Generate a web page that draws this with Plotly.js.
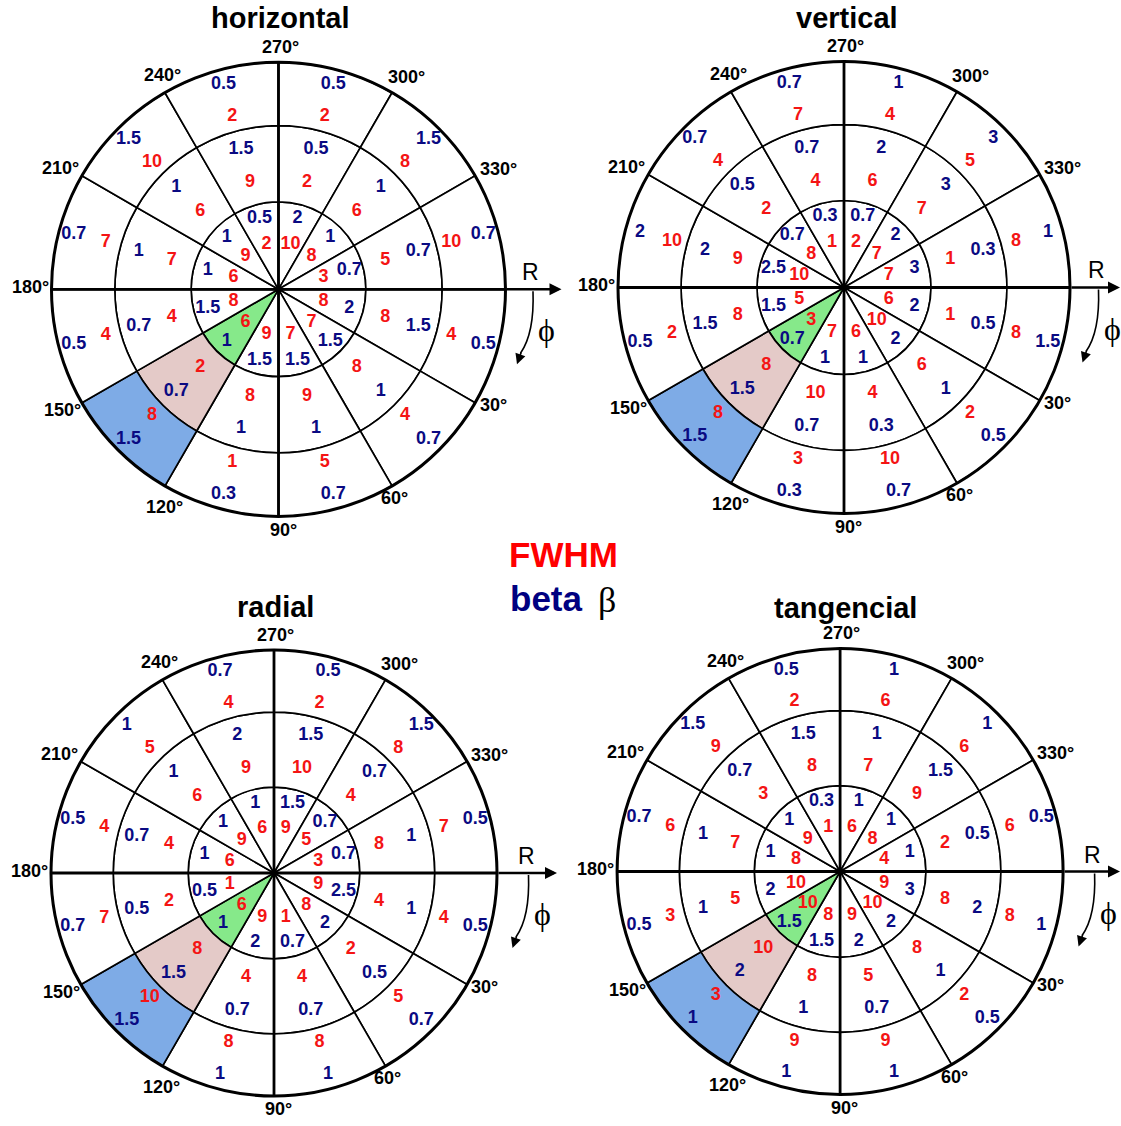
<!DOCTYPE html>
<html><head><meta charset="utf-8">
<script src="https://cdn.plot.ly/plotly-3.0.1.min.js"></script>
<style>html,body{margin:0;padding:0;background:#fff}</style>
</head><body><div id="chart" style="width:1121px;height:1126px"></div>
<script>
// ---- categories ----
const sectorMid = [15,45,75,105,135,165,195,225,255,285,315,345];   // sectors S0..S11 (clockwise from R axis)
const tickAngles = [30,60,90,120,150,180,210,240,270,300,330];
const tickLabels = ['30°','60°','90°','120°','150°','180°','210°','240°','270°','300°','330°'];
const panelTitles = ['horizontal','vertical','radial','tangencial'];

// ---- horizontal ----
const horFwhmInner  = [8,7,7,9,6,8,6,9,2,10,8,3];
const horBetaInner  = [2,1.5,1.5,1.5,1,1.5,1,1,0.5,2,1,0.7];
const horFwhmMiddle = [8,8,9,8,2,4,7,6,9,2,6,5];
const horBetaMiddle = [1.5,1,1,1,0.7,0.7,1,1,1.5,0.5,1,0.7];
const horFwhmOuter  = [4,4,5,1,8,4,7,10,2,2,8,10];
const horBetaOuter  = [0.5,0.7,0.7,0.3,1.5,0.5,0.7,1.5,0.5,0.5,1.5,0.7];

// ---- vertical ----
const verFwhmInner  = [6,10,6,7,3,5,10,8,1,2,7,7];
const verBetaInner  = [2,2,1,1,0.7,1.5,2.5,0.7,0.3,0.7,2,3];
const verFwhmMiddle = [1,6,4,10,8,8,9,2,4,6,7,1];
const verBetaMiddle = [0.5,1,0.3,0.7,1.5,1.5,2,0.5,0.7,2,3,0.3];
const verFwhmOuter  = [8,2,10,3,8,2,10,4,7,4,5,8];
const verBetaOuter  = [1.5,0.5,0.7,0.3,1.5,0.5,2,0.7,0.7,1,3,1];

// ---- radial ----
const radFwhmInner  = [9,8,1,9,6,1,6,9,6,9,5,3];
const radBetaInner  = [2.5,2,0.7,2,1,0.5,1,1,1,1.5,0.7,0.7];
const radFwhmMiddle = [4,2,4,4,8,2,4,6,9,10,4,8];
const radBetaMiddle = [1,0.5,0.7,0.7,1.5,0.5,0.7,1,2,1.5,0.7,1];
const radFwhmOuter  = [4,5,8,8,10,7,4,5,4,2,8,7];
const radBetaOuter  = [0.5,0.7,1,1,1.5,0.7,0.5,1,0.7,0.5,1.5,0.5];

// ---- tangencial ----
const tanFwhmInner  = [9,10,9,8,10,10,8,9,1,6,8,4];
const tanBetaInner  = [3,2,2,1.5,1.5,2,1,1,0.3,1,1,1];
const tanFwhmMiddle = [8,8,5,8,10,5,7,3,8,7,9,2];
const tanBetaMiddle = [2,1,0.7,1,2,1,1,0.7,1.5,1,1.5,0.5];
const tanFwhmOuter  = [8,2,9,9,3,3,6,9,2,6,6,6];
const tanBetaOuter  = [1,0.5,1,1,1,0.5,0.7,1.5,0.5,1,1,0.5];

const highlightSector = 4; // 120°-150°

// ---- style / geometry ----
const W = 1121, H = 1126;
const ringEdges = [0, 0.385, 0.721, 1.0];
const redR  = [0.205, 0.487, 0.788];
const blueR = [0.323, 0.637, 0.934];
const hlColors = ['#86e98a', '#e4cac8', '#7eabe6'];
const RED = '#f41414', NAVY = '#0a0a82';
// pixel offsets (for R=227) of each angle label centre from the circle centre
const angleLabelOffsets = [[214.5,115.7],[116,208.7],[4.5,240.7],[-114.5,217.7],[-216.5,120.7],[-248.5,-2.3],
  [-218.5,-121.3],[-116.5,-214.3],[1.5,-242.3],[127.5,-212.3],[219.5,-120.3]];
const geom = [
  {cx:278.5, cy:289.3, R:227, tx:280, ty:18},
  {cx:844.0, cy:287.5, R:226, tx:847, ty:18},
  {cx:274.0, cy:873.0, R:223, tx:275, ty:607},
  {cx:840.1, cy:871.5, R:223, tx:845, ty:608}
];
const panels = [
  {fwhm:[horFwhmInner,horFwhmMiddle,horFwhmOuter], beta:[horBetaInner,horBetaMiddle,horBetaOuter]},
  {fwhm:[verFwhmInner,verFwhmMiddle,verFwhmOuter], beta:[verBetaInner,verBetaMiddle,verBetaOuter]},
  {fwhm:[radFwhmInner,radFwhmMiddle,radFwhmOuter], beta:[radBetaInner,radBetaMiddle,radBetaOuter]},
  {fwhm:[tanFwhmInner,tanFwhmMiddle,tanFwhmOuter], beta:[tanBetaInner,tanBetaMiddle,tanBetaOuter]}
];
const X = px => px / W;
const Y = py => 1 - py / H;
const FONT = 'Liberation Sans, Arial, sans-serif';
const SERIF = 'Liberation Serif, Times New Roman, serif';

const traces = [];
const layout = {
  width: W, height: H,
  margin: {l:0, r:0, t:0, b:0},
  paper_bgcolor: 'white',
  showlegend: false,
  hovermode: false,
  annotations: [],
  shapes: []
};

panels.forEach((p, i) => {
  const g = geom[i];
  const sub = i === 0 ? 'polar' : 'polar' + (i + 1);
  // cells
  const th = [], base = [], rr = [], col = [];
  for (let k = 0; k < 3; k++) {
    sectorMid.forEach((a, s) => {
      th.push(a); base.push(ringEdges[k]); rr.push(ringEdges[k+1] - ringEdges[k]);
      col.push(s === highlightSector ? hlColors[k] : 'white');
    });
  }
  traces.push({type:'barpolar', subplot:sub, theta:th, base:base, r:rr, width:30,
    marker:{color:col, line:{color:'black', width:1.7}}, hoverinfo:'skip'});
  // main axes (thicker)
  traces.push({type:'scatterpolar', subplot:sub, mode:'lines', r:[1,1,null,1,1], theta:[0,180,null,90,270],
    line:{color:'black', width:2.8}, cliponaxis:false, hoverinfo:'skip'});
  // values
  ['fwhm','beta'].forEach(key => {
    const rT = [], tT = [], txt = [];
    for (let k = 0; k < 3; k++) {
      p[key][k].forEach((v, s) => {
        rT.push(key === 'fwhm' ? redR[k] : blueR[k]);
        tT.push(sectorMid[s]);
        txt.push(String(v));
      });
    }
    traces.push({type:'scatterpolar', subplot:sub, mode:'text', r:rT, theta:tT, text:txt,
      textposition:'middle center', cliponaxis:false, hoverinfo:'skip',
      textfont:{family:FONT, size:18, weight:'bold', color: key === 'fwhm' ? RED : NAVY}});
  });
  layout[sub] = {
    domain: {x:[X(g.cx - g.R), X(g.cx + g.R)], y:[Y(g.cy + g.R), Y(g.cy - g.R)]},
    bgcolor: 'white',
    bargap: 0,
    radialaxis: {range:[0,1], visible:false},
    angularaxis: {direction:'clockwise', rotation:0, showticklabels:false,
      showgrid:false, showline:true, linewidth:3, linecolor:'black', ticks:''}
  };
  // angle labels
  const sc = g.R / 227;
  tickLabels.forEach((t, j) => {
    const o = angleLabelOffsets[j];
    layout.annotations.push({text:t, x:X(g.cx + o[0]*sc), y:Y(g.cy + o[1]*sc), xref:'paper', yref:'paper',
      showarrow:false, xanchor:'center', yanchor:'middle', font:{family:FONT, size:18, weight:'bold', color:'black'}});
  });
  // title
  layout.annotations.push({text:panelTitles[i], x:X(g.tx), y:Y(g.ty), xref:'paper', yref:'paper',
    showarrow:false, xanchor:'center', yanchor:'middle', font:{family:FONT, size:29, weight:'bold', color:'black'}});
  // R arrow
  layout.annotations.push({text:'', x:X(g.cx + 283), y:Y(g.cy), xref:'paper', yref:'paper',
    showarrow:true, ax:(g.R - 283), ay:0, arrowhead:2, arrowsize:1, arrowwidth:2.4, arrowcolor:'black', standoff:0});
  layout.annotations.push({text:'R', x:X(g.cx + 252), y:Y(g.cy - 17), xref:'paper', yref:'paper',
    showarrow:false, xanchor:'center', yanchor:'middle', font:{family:FONT, size:23, color:'black'}});
  layout.annotations.push({text:'ϕ', x:X(g.cx + 268), y:Y(g.cy + 41), xref:'paper', yref:'paper',
    showarrow:false, xanchor:'center', yanchor:'middle', font:{family:SERIF, size:32, color:'black'}});
  // curved phi arrow
  layout.shapes.push({type:'path', xref:'paper', yref:'paper',
    path:`M ${X(g.cx+254.5)},${Y(g.cy+2)} Q ${X(g.cx+256)},${Y(g.cy+44)} ${X(g.cx+242)},${Y(g.cy+64)}`,
    line:{color:'black', width:1.6}});
  layout.annotations.push({text:'', x:X(g.cx + 238.5), y:Y(g.cy + 75), xref:'paper', yref:'paper',
    showarrow:true, ax:4.5, ay:-13, arrowhead:2, arrowsize:1.3, arrowwidth:1.6, arrowcolor:'black', standoff:0});
});

// legend words
layout.annotations.push({text:'FWHM', x:X(563), y:Y(555), xref:'paper', yref:'paper', showarrow:false,
  xanchor:'center', yanchor:'middle', font:{family:FONT, size:35, weight:'bold', color:'#ff0000'}});
layout.annotations.push({text:'beta', x:X(546), y:Y(598), xref:'paper', yref:'paper', showarrow:false,
  xanchor:'center', yanchor:'middle', font:{family:FONT, size:35, weight:'bold', color:'#000080'}});
layout.annotations.push({text:'β', x:X(607), y:Y(600), xref:'paper', yref:'paper', showarrow:false,
  xanchor:'center', yanchor:'middle', font:{family:SERIF, size:36, color:'black'}});

Plotly.newPlot('chart', traces, layout, {displayModeBar:false, staticPlot:true});
</script></body></html>
